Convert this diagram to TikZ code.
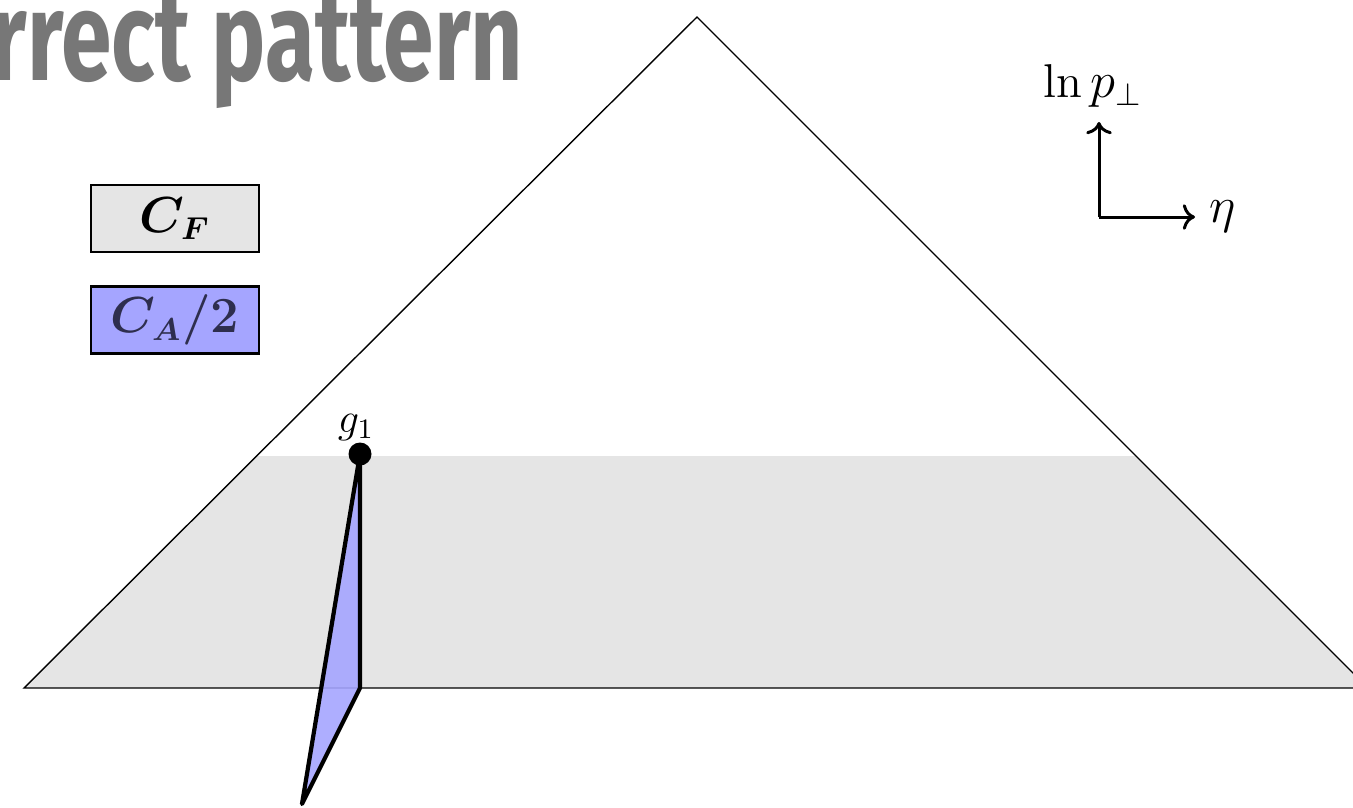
\documentclass[tikz,border=0pt]{standalone}
\usepackage{fontspec}
\usepackage{amsmath,bm}
\newfontfamily\headfont[FakeStretch=0.72]{Fira Sans Bold}
\usetikzlibrary{arrows.meta}
\definecolor{ink}{HTML}{000000}
\definecolor{headgray}{HTML}{777777}
\definecolor{band}{HTML}{E5E5E5}
\definecolor{gluon}{HTML}{A5A5FF}
\definecolor{gluontext}{HTML}{2E2E4E}

\begin{document}
\begin{tikzpicture}[
    line width=0.4pt,
    color=ink,
    head/.style={font=\headfont\fontsize{36}{40}\selectfont, text=headgray, inner sep=0pt},
    colbox/.style={draw=ink, line width=0.6pt, minimum width=1.68cm, minimum height=0.67cm,
                   inner sep=0pt, font=\fontsize{13.5}{16}\selectfont},
    lab/.style={font=\fontsize{13.5}{16}\selectfont, text=ink, inner sep=1pt},
    fin/.style={fill=gluon, fill opacity=0.9, draw=ink, line width=1.2pt, line join=round},
    axis/.style={->, line width=0.85pt}]
  % fixed canvas, 1 px = 0.01 cm
  \path[use as bounding box] (0,0) rectangle (13.53,8.07);

  % ================= title (cut at the left edge) =================
  \node[head, anchor=base east] (title) at (5.24,7.27) {orrect pattern};

  % ================= phase space triangle and shaded band =================
  \coordinate (left) at (0.24,1.19);
  \coordinate (apex) at (6.97,7.90);
  \coordinate (right) at (13.68,1.19);
  \fill[band] (left) -- (2.56,3.51) -- (11.36,3.51) -- (right) -- cycle;
  \draw (left) -- (apex) -- (right) -- cycle;

  % ================= legend boxes =================
  \node[colbox, fill=band] (cf) at (1.75,5.885) {$\bm{C_F}$};
  \node[colbox, fill=gluon, text=gluontext] (ca) at (1.75,4.87) {$\bm{C_A/2}$};

  % ================= emission g1 and its fin =================
  \coordinate (g1) at (3.60,3.53);
  \draw[fin] (g1) -- (3.60,1.19) -- (3.02,0.03) -- cycle;
  \fill[ink] (g1) circle (0.115);
  \node[lab, font=\fontsize{12}{14}\selectfont, anchor=south] (g1lab) at (3.56,3.62) {$g_1$};

  % ================= axes =================
  \coordinate (origin) at (10.99,5.90);
  \coordinate (yend) at (10.99,6.85);
  \coordinate (xend) at (11.95,5.90);
  \draw[axis] (origin) -- (yend);
  \draw[axis] (origin) -- (xend);
  \node[lab, anchor=south] (ylab) at ([xshift=-0.06cm, yshift=0.10cm]yend) {$\ln p_\perp$};
  \node[lab, anchor=west] (xlab) at ([xshift=0.10cm]xend) {$\eta$};
\end{tikzpicture}
\end{document}
